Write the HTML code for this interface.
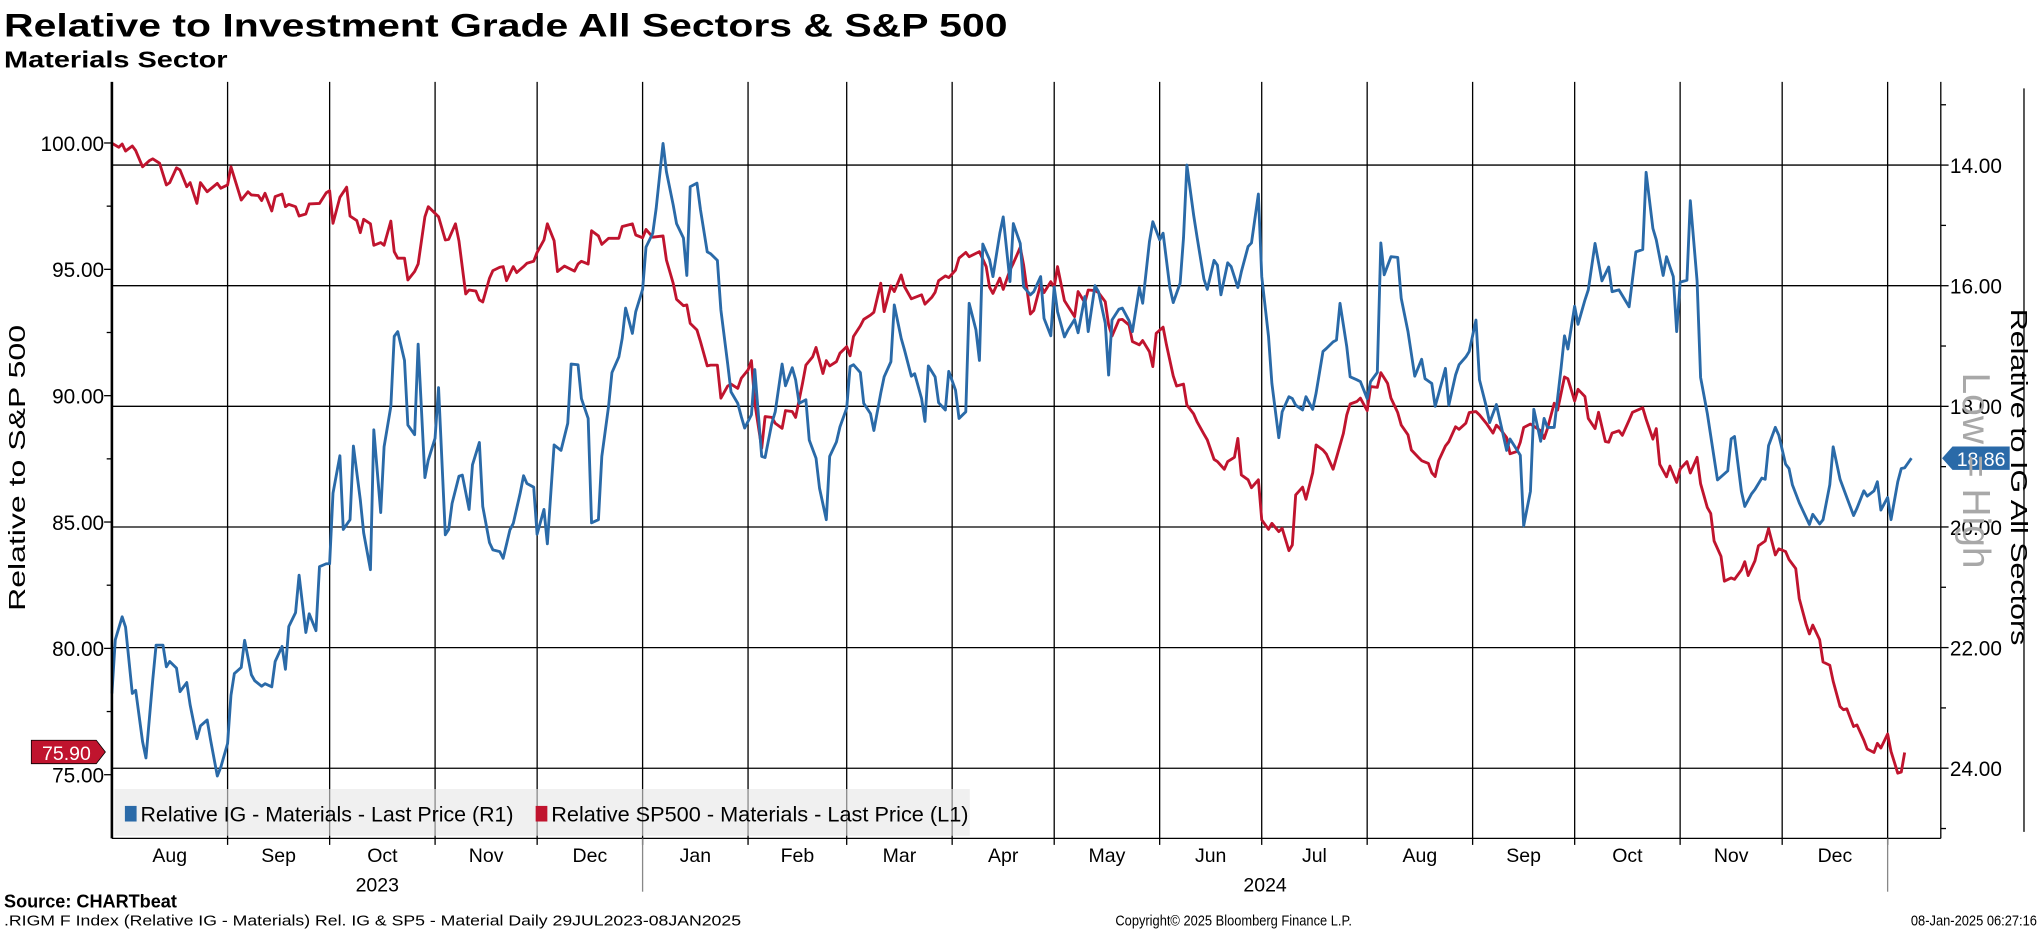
<!DOCTYPE html>
<html><head><meta charset="utf-8"><style>
html,body{margin:0;padding:0;background:#fff;}
svg{display:block;font-family:"Liberation Sans",sans-serif;}
</style></head><body>
<svg id="chart" width="2041" height="932" viewBox="0 0 1570 717" xmlns="http://www.w3.org/2000/svg">
<rect x="0" y="0" width="1570" height="717" fill="#fff"/>
<text x="3" y="28" font-size="25" font-weight="bold" fill="#000" textLength="772" lengthAdjust="spacingAndGlyphs">Relative to Investment Grade All Sectors &amp; S&amp;P 500</text>
<text x="3" y="52" font-size="18" font-weight="bold" fill="#000" textLength="172" lengthAdjust="spacingAndGlyphs">Materials Sector</text>
<g id="grid"></g>
<rect x="88" y="607" width="658" height="36" fill="#e6e6e6" opacity="0.6"/>
<g id="series"></g>
<g id="axes"></g>
<g>
<rect x="96" y="620" width="9" height="12" fill="#2a6aa8"/>
<text x="108" y="632" font-size="16" fill="#000" textLength="287" lengthAdjust="spacingAndGlyphs">Relative IG - Materials - Last Price (R1)</text>
<rect x="412" y="620" width="9" height="12" fill="#c0142e"/>
<text x="424" y="632" font-size="16" fill="#000" textLength="321" lengthAdjust="spacingAndGlyphs">Relative SP500 - Materials - Last Price (L1)</text>
</g>
<text transform="translate(19,360) rotate(-90)" text-anchor="middle" font-size="18" fill="#000" textLength="220" lengthAdjust="spacingAndGlyphs">Relative to S&amp;P 500</text>
<text transform="translate(1547,367) rotate(90)" text-anchor="middle" font-size="18" fill="#000" textLength="259" lengthAdjust="spacingAndGlyphs">Relative to IG All Sectors</text>
<text transform="translate(1510,362) rotate(90)" text-anchor="middle" font-size="30" fill="#a8a8a8">Low = High</text>
<text x="3" y="698" font-size="14" font-weight="bold" fill="#000" textLength="133" lengthAdjust="spacingAndGlyphs">Source: CHARTbeat</text>
<text x="3" y="712" font-size="11" fill="#000" textLength="567" lengthAdjust="spacingAndGlyphs">.RIGM F Index (Relative IG - Materials) Rel. IG &amp; SP5 - Material  Daily 29JUL2023-08JAN2025</text>
<text x="949" y="712" text-anchor="middle" font-size="11" fill="#000" textLength="182" lengthAdjust="spacingAndGlyphs">Copyright© 2025 Bloomberg Finance L.P.</text>
<text x="1567" y="712" text-anchor="end" font-size="11" fill="#000" textLength="97" lengthAdjust="spacingAndGlyphs">08-Jan-2025 06:27:16</text>
</svg>
<script>
// day index counted from 29-Jul-2023
const blueDays=[0,1,3,4,6,7,9,10,12,13,15,16,17,19,20,22,23,25,26,28,29,31,32,34,35,36,38,39,41,42,44,45,47,48,50,51,52,54,55,57,58,60,61,63,64,
65,67,68,70,71,73,74,76,77,79,80,82,83,84,86,87,89,90,92,93,95,96,98,99,100,102,103,105,106,108,109,111,112,114,115,117,118,120,121,122,124,125,127,128,130,
132,134,135,137,138,140,141,143,144,146,147,149,150,151,153,154,156,157,159,160,162,163,165,166,168,169,170,172,173,175,176,178,179,181,182,184,185,186,188,189,191,192,194,195,197,198,200,201,202,204,205,207,208,210,211,213,214,216,217,218,220,221,223,224,226,227,229,230,232,233,235,236,238,239,240,242,243,245,246,248,249,251,252,254,255,256,258,259,261,262,264,265,267,268,270,
271,273,274,276,277,278,280,281,283,284,286,287,289,290,292,293,294,296,297,299,300,302,303,305,306,308,309,311,312,314,315,316,318,319,321,322,324,325,326,328,329,331,332,334,335,337,338,340,341,343,344,346,347,348,350,351,353,354,356,357,359,360,361,363,364,366,367,369,370,372,373,374,376,378,379,381,383,385,386,388,389,390,392,393,395,396,398,399,401,402,404,
405,407,410,411,414,415,417,418,420,421,422,424,426,427,428,430,431,433,434,436,438,440,441,443,446,448,450,451,453,454,456,457,459,460,461,463,464,466,467,469,472,475,476,477,479,480,482,483,485,486,487,489,490,492,493,494,496,497,499,500,502,503,505,506,508,510,512,513,515,516,518,519,520,522,523,525,526,527,529];
const blueValues=[22.76,21.87,21.49,21.66,22.76,22.71,23.56,23.83,22.54,21.96,21.96,22.32,22.23,22.34,22.73,22.58,22.95,23.51,23.30,23.20,23.53,24.13,23.98,23.59,22.79,22.43,22.33,21.88,22.45,22.55,22.64,22.60,22.65,22.23,21.98,22.36,21.65,21.42,20.80,21.75,21.44,21.72,20.66,20.61,20.61,
19.44,18.82,20.04,19.88,18.66,19.55,20.10,20.71,18.39,19.76,18.67,18.0,16.84,16.76,17.24,18.31,18.47,16.97,19.18,18.89,18.53,17.69,20.13,20.04,19.61,19.16,19.14,19.71,18.97,18.6,19.66,20.26,20.38,20.41,20.52,20.05,19.94,19.44,19.15,19.28,19.34,20.12,19.71,20.28,18.64,
18.73,18.28,17.3,17.31,17.87,18.2,19.93,19.88,18.83,18.0,17.44,17.18,16.87,16.37,16.79,16.43,16.06,15.36,15.13,14.72,13.64,14.11,14.66,14.97,15.21,15.83,14.36,14.30,14.74,15.44,15.47,15.58,16.40,17.29,17.76,17.95,18.17,18.36,18.14,17.39,18.83,18.85,18.28,18.09,17.30,17.66,17.36,17.56,17.95,17.89,18.56,18.86,19.36,19.88,18.83,18.59,18.34,18.03,17.34,17.31,17.44,17.95,18.12,18.40,17.78,17.51,17.26,16.32,16.87,17.07,17.50,17.46,17.87,18.25,17.33,17.51,17.94,18.06,17.42,17.73,18.2,18.09,16.29,16.73,17.24,15.31,15.57,15.85,15.13,14.86,15.93,14.97,15.30,16.02,16.15,
16.1,15.85,16.54,16.83,16.02,16.43,16.85,16.74,16.56,16.78,16.18,16.76,16.0,16.1,16.62,17.48,16.57,16.39,16.37,16.58,16.76,16.03,16.29,15.27,14.94,15.24,15.13,16.03,16.28,15.96,15.21,14.0,14.83,15.19,15.89,16.06,15.58,15.66,16.15,15.62,15.68,16.03,15.77,15.35,15.29,14.48,15.85,16.84,17.62,18.52,18.09,17.84,17.87,17.98,18.06,17.84,18.05,17.78,17.09,17.04,16.93,16.9,16.29,17.01,17.51,17.56,17.59,17.87,17.59,17.44,15.29,15.82,15.52,15.53,16.21,16.76,17.5,17.22,17.54,17.62,18.0,17.79,17.37,17.98,17.48,17.31,17.18,17.09,16.57,17.56,18.0,
18.27,17.97,18.73,18.54,18.81,19.98,19.41,18.05,18.58,18.2,18.35,18.35,17.36,16.83,17.05,16.34,16.64,16.24,16.07,15.3,15.92,15.69,16.1,16.07,16.35,15.44,15.4,14.12,15.05,15.24,15.83,15.52,15.85,16.76,15.94,15.91,14.59,15.92,17.52,18.12,19.22,19.07,18.54,18.5,19.41,19.66,19.45,19.38,19.19,19.21,18.65,18.35,18.48,18.96,19.03,19.3,19.6,19.72,19.96,19.79,19.95,19.88,19.3,18.67,19.21,19.51,19.81,19.69,19.4,19.49,19.4,19.25,19.72,19.51,19.88,19.25,19.03,19.02,18.86];
const redDays=[0,2,3,4,6,7,9,11,12,14,16,17,19,20,22,23,25,26,28,31,32,34,35,38,40,41,43,44,45,47,48,50,51,52,54,55,57,58,61,63,64,65,67,69,70,72,73,74,76,77,79,80,82,83,84,86,87,89,90,92,93,96,98,99,101,102,104,105,107,108,109,111,112,114,115,116,118,119,121,122,124,125,127,128,130,131,
133,136,137,138,140,141,143,144,146,149,150,153,154,156,157,159,162,163,165,166,168,169,170,172,173,175,176,178,179,181,182,184,185,187,188,189,191,192,194,195,197,198,200,201,203,204,206,207,209,210,211,213,214,216,217,218,220,221,223,224,226,227,229,230,232,233,235,238,239,241,242,243,245,246,248,249,251,252,255,257,258,259,261,262,264,265,267,268,270,
271,273,274,276,277,278,280,281,283,284,286,287,289,290,292,293,294,296,297,299,300,302,303,305,306,307,309,310,312,313,315,316,318,319,321,322,324,325,327,328,330,331,332,334,335,337,338,340,341,343,344,346,347,348,350,351,353,354,356,357,359,360,362,363,364,366,367,369,370,372,373,375,376,378,379,381,382,384,385,387,388,389,390,392,393,395,396,398,399,401,402,404,
406,407,408,410,411,413,414,415,417,418,420,421,422,424,425,427,428,430,431,433,434,436,437,439,440,441,443,444,446,447,450,451,453,454,455,457,458,460,461,463,464,466,467,469,470,471,473,474,476,477,479,480,481,483,484,486,487,489,490,492,493,495,496,498,499,500,502,503,505,506,508,509,510,512,513,515,516,518,519,520,522,523,525,526,527];
const redValues=[99.99,99.83,99.96,99.68,99.88,99.70,99.06,99.30,99.37,99.2,98.34,98.43,99.02,98.93,98.27,98.43,97.61,98.43,98.07,98.4,98.21,98.34,99.06,97.74,98.07,97.94,97.92,97.72,98.01,97.31,97.88,97.98,97.48,97.57,97.48,97.11,97.19,97.59,97.61,98.03,98.11,96.82,97.85,98.25,97.11,96.93,96.45,96.98,96.8,95.95,96.06,95.95,96.91,95.7,95.44,95.44,94.58,94.91,95.21,97.08,97.48,97.08,96.16,96.19,96.8,96.12,94.03,94.18,94.14,93.79,93.71,94.65,94.95,95.08,95.11,94.55,95.11,94.87,95.11,95.24,95.32,95.67,96.16,96.8,96.13,94.91,
95.13,94.93,95.21,95.32,95.21,96.53,96.32,95.99,96.23,96.23,96.69,96.8,96.36,96.25,96.58,96.27,96.32,95.37,94.45,93.81,93.56,93.59,92.86,92.6,92.14,91.18,91.21,91.21,89.9,90.38,90.46,90.29,90.69,91.02,91.39,89.70,87.92,89.17,89.14,88.91,88.71,89.41,89.37,89.14,90.49,91.21,91.54,91.91,90.88,91.39,91.18,91.35,91.68,91.94,91.58,92.34,92.76,93.02,93.19,93.3,94.45,93.33,94.34,94.12,94.78,94.31,93.83,93.99,93.62,93.89,94.09,94.55,94.74,94.67,94.97,95.44,95.67,95.5,95.7,95.11,94.29,94.05,94.65,94.21,94.97,95.24,95.87,95.17,93.23,
93.37,94.42,94.08,94.51,94.29,95.11,93.76,93.55,93.13,94.12,93.68,94.18,94.16,94.08,93.72,92.8,92.36,93.0,93.02,92.8,92.14,92.01,92.18,91.74,91.15,92.47,92.71,92.01,90.78,90.38,90.46,89.63,89.28,88.97,88.48,88.25,87.48,87.39,87.09,87.39,87.56,88.31,86.86,86.67,86.36,86.67,85.08,84.71,84.95,84.62,84.75,83.87,84.09,86.07,86.38,85.90,86.95,88.05,87.85,87.69,87.09,87.55,88.51,89.24,89.67,89.77,89.9,89.41,90.36,90.33,90.91,90.49,89.9,89.33,88.84,88.45,87.85,87.56,87.43,87.32,86.95,86.8,87.43,88.01,88.18,88.77,88.67,88.91,89.33,89.37,89.24,88.91,
88.52,88.83,88.70,88.34,87.70,87.79,88.16,88.74,88.88,88.79,88.61,88.30,88.70,89.70,89.43,90.74,90.67,89.79,90.25,89.97,89.10,88.70,89.34,88.19,88.16,88.52,88.61,88.43,89.03,89.34,89.52,89.07,88.28,88.70,87.28,86.79,87.21,86.57,87.10,87.39,86.94,87.56,86.52,85.57,85.34,84.25,83.64,82.66,82.79,82.73,83.10,83.43,82.88,83.46,84.06,84.25,84.74,83.70,83.94,83.83,83.52,83.16,81.97,80.97,80.57,80.92,80.34,79.46,79.33,78.70,77.70,77.57,77.61,76.91,76.97,76.37,76.02,75.88,76.24,76.06,76.61,75.92,75.06,75.11,75.88];
const leftTicks=[75,80,85,90,95,100];
const rightTicks=[14,16,18,20,22,24];
const monthStarts=[34,64,95,125,156,187,216,247,277,308,338,369,400,430,461,491,522];
const monthLabels=["Aug","Sep","Oct","Nov","Dec","Jan","Feb","Mar","Apr","May","Jun","Jul","Aug","Sep","Oct","Nov","Dec"];
const yearLabels=["2023","2024"];
const lastBlue="18.86", lastRed="75.90";

const NS="http://www.w3.org/2000/svg";
const X0=86,X1=1480,XR=1493,YT=63,YB=645;
function xOf(d){return 175+(d-34)*2.617;}
function yL(v){return 110+(100-v)*19.44;}
function yR(v){return 127+(v-14)*46.4;}
function mk(tag,attrs,parent){const e=document.createElementNS(NS,tag);for(const k in attrs)e.setAttribute(k,attrs[k]);parent.appendChild(e);return e;}
const grid=document.getElementById('grid'),series=document.getElementById('series'),axes=document.getElementById('axes');

rightTicks.forEach(v=>{
  const l=mk('line',{x1:X0,x2:XR,y1:yR(v),y2:yR(v),stroke:'#000','stroke-width':1},grid);
  
  
});
monthStarts.forEach(d=>{
  const l=mk('line',{x1:xOf(d),x2:xOf(d),y1:YT,y2:YB,stroke:'#000','stroke-width':1},grid);
  
  
});

function path(days,vals,yf,color,name){
  let d='';
  days.forEach((dd,i)=>{d+=(i?'L':'M')+xOf(dd).toFixed(1)+' '+yf(vals[i]).toFixed(1);});
  const p=mk('path',{d:d,fill:'none',stroke:color,'stroke-width':2.2,'stroke-linejoin':'round'},series);
  
  
}
path(redDays,redValues,yL,'#c0142e','line-relative-sp500');
path(blueDays,blueValues,yR,'#2a6aa8','line-relative-ig');

mk('line',{x1:X0,x2:X0,y1:YT,y2:YB,stroke:'#000','stroke-width':2},axes);
mk('line',{x1:XR,x2:XR,y1:YT,y2:YB,stroke:'#000','stroke-width':1},axes);
mk('line',{x1:X0,x2:XR,y1:YB,y2:YB,stroke:'#000','stroke-width':1},axes);
mk('line',{x1:1557,x2:1557,y1:68,y2:640,stroke:'#000','stroke-width':1},axes);
for(let v=75;v<=100;v+=2.5){
  const major=(v%5===0);
  mk('line',{x1:X0-(major?6:4),x2:X0,y1:yL(v),y2:yL(v),stroke:'#000','stroke-width':1},axes);
}
leftTicks.forEach(v=>{
  const t=mk('text',{x:80,y:yL(v)+6,'text-anchor':'end','font-size':16,fill:'#000'},axes);
  t.textContent=v.toFixed(2);
  
  
});
for(let v=13;v<=25;v+=1){
  mk('line',{x1:XR,x2:XR+(v%2===0?6:4),y1:yR(v),y2:yR(v),stroke:'#000','stroke-width':1},axes);
}
rightTicks.forEach(v=>{
  const t=mk('text',{x:1500,y:yR(v)+6,'font-size':16,fill:'#000'},axes);
  t.textContent=v.toFixed(2);
  
  
});
const bounds=[0].concat(monthStarts).concat([529]);
monthLabels.forEach((m,i)=>{
  const a=xOf(bounds[i]),b=xOf(bounds[i+1]);
  const cx=i===0?(X0+xOf(34))/2:(a+b)/2;
  const t=mk('text',{x:cx,y:663,'text-anchor':'middle','font-size':15,fill:'#000'},axes);
  t.textContent=m;
  
  
});
monthStarts.forEach(d=>{mk('line',{x1:xOf(d),x2:xOf(d),y1:YB,y2:YB+5,stroke:'#000','stroke-width':1},axes);});
[156,522].forEach(s=>{mk('line',{x1:xOf(s),x2:xOf(s),y1:YB,y2:686,stroke:'#888','stroke-width':1},axes);});
const yt1=mk('text',{x:(X0+xOf(156))/2,y:686,'text-anchor':'middle','font-size':15,fill:'#000'},axes);
yt1.textContent=yearLabels[0];


const yt2=mk('text',{x:(xOf(156)+xOf(522))/2,y:686,'text-anchor':'middle','font-size':15,fill:'#000'},axes);
yt2.textContent=yearLabels[1];



const by=yR(blueValues[blueValues.length-1]);
const bt=mk('path',{d:`M1494 ${by} L1502 ${by-9} L1546 ${by-9} L1546 ${by+9} L1502 ${by+9} Z`,fill:'#2a6aa8'},axes);


const btt=mk('text',{x:1524,y:by+6,'text-anchor':'middle','font-size':15,fill:'#fff'},axes);
btt.textContent=lastBlue;


const ry=yL(75.90);
const rt=mk('path',{d:`M24 ${ry-9} L74 ${ry-9} L81 ${ry} L74 ${ry+9} L24 ${ry+9} Z`,fill:'#c0142e',stroke:'#000','stroke-width':0.6},axes);


const rtt=mk('text',{x:51,y:ry+6,'text-anchor':'middle','font-size':15,fill:'#fff'},axes);
rtt.textContent=lastRed;


</script>
</body></html>
